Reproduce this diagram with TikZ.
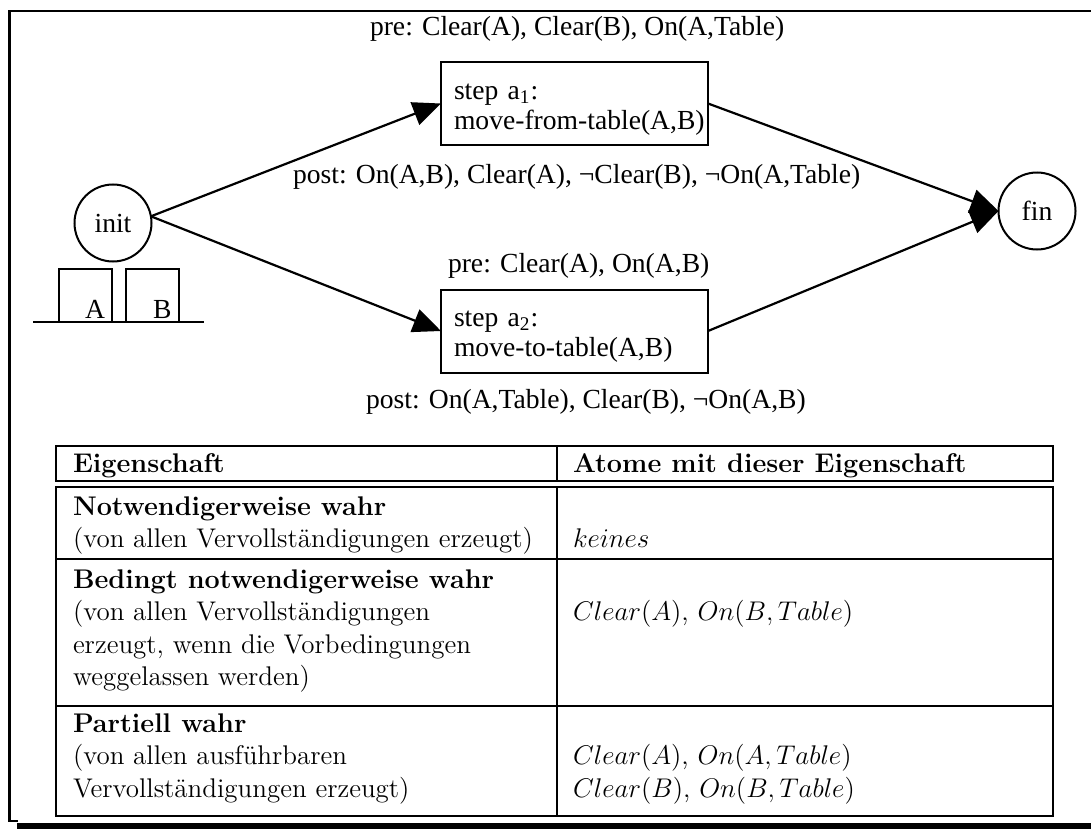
\RequirePackage{fix-cm}
\documentclass[tikz,border=0pt]{standalone}
\usepackage{fontspec}
\newfontfamily\tms{Liberation Serif}
\usetikzlibrary{arrows.meta}
\newcommand{\tfont}{\tms\fontsize{13.8}{15}\selectfont}
\newcommand{\cfont}{\fontsize{13.5}{16.25}\selectfont}
\newcommand{\pad}{\hspace*{5.5pt}}
\begin{document}
\begin{tikzpicture}[x=0.5pt,y=-0.5pt,
  every node/.style={inner sep=0pt,outer sep=0pt},
  frame/.style={line width=1.25pt},
  rulel/.style={line width=1pt},
  conn/.style={line width=1.1pt,-{Triangle[length=14pt,width=12pt]}},
  state/.style={circle,draw,line width=1pt,minimum size=38.5pt,font=\tfont},
  stepbox/.style={draw,line width=1pt,minimum height=41.5pt,text width=131.5pt,
    inner xsep=1pt,align=left,font=\tfont},
  block/.style={draw,line width=1pt,minimum width=26.5pt,minimum height=26.5pt},
  lbl/.style={font=\tfont,anchor=base west},
  cell/.style={font=\cfont,anchor=base west},
]
\useasboundingbox (0,0) rectangle (1091,829);

% outer frame
\draw[frame] (8,11) -- (1091,11);
\draw[frame] (9.5,11) -- (9.5,821) -- (18,821);
\fill (17,823) rectangle (1091,829);

% plan graph
\node[state] (init) at (113,223) {init};
\node[state] (fin) at (1037,211) {fin};
\node[stepbox] (a1) at (574.5,103.5)
  {\pad\rule{0pt}{13.5pt}step a\textsubscript{1}:\\
   \pad move-from-table(A,B)\rule[-3pt]{0pt}{3pt}};
\node[stepbox] (a2) at (574.5,331)
  {\pad\rule{0pt}{13.5pt}step a\textsubscript{2}:\\
   \pad move-to-table(A,B)\rule[-3pt]{0pt}{3pt}};

\draw[conn] (init.10) -- (a1.west);
\draw[conn] (init.10) -- (a2.west);
\draw[conn] (a1.east) -- (fin.west);
\draw[conn] (a2.east) -- (fin.west);

\node[lbl] (pre1) at (370,36) {pre: Clear(A), Clear(B), On(A,Table)};
\node[lbl] (post1) at (293,183) {post: On(A,B), Clear(A), ¬Clear(B), ¬On(A,Table)};
\node[lbl] (pre2) at (448,272) {pre: Clear(A), On(A,B)};
\node[lbl] (post2) at (366,408) {post: On(A,Table), Clear(B), ¬On(A,B)};

% blocks on the table
\node[block] (ba) at (85,295.5) {};
\node[block] (bb) at (152.5,295.5) {};
\node[lbl] (la) at (85,318) {A};
\node[lbl] (lb) at (153,318) {B};
\draw[rulel] (33,322) -- (204,322);

% table of properties
\draw[rulel] (56,446) rectangle (1053,481);
\draw[rulel] (56,487) rectangle (1053,816);
\draw[rulel] (557,446) -- (557,481);
\draw[rulel] (557,487) -- (557,816);
\draw[rulel] (56,559) -- (1053,559);
\draw[rulel] (56,706) -- (1053,706);

\node[cell] (h1) at (73,472) {\bfseries Eigenschaft};
\node[cell] (h2) at (573,472) {\bfseries Atome mit dieser Eigenschaft};

\node[cell] (r1a) at (73,515) {\bfseries Notwendigerweise wahr};
\node[cell] (r1b) at (73,547.5) {(von allen Vervollständigungen erzeugt)};
\node[cell] (r1c) at (573,547.5) {$keines$};

\node[cell] (r2a) at (73,588) {\bfseries Bedingt notwendigerweise wahr};
\node[cell] (r2b) at (73,620.5) {(von allen Vervollständigungen};
\node[cell] (r2c) at (73,653) {erzeugt, wenn die Vorbedingungen};
\node[cell] (r2d) at (73,685.5) {weggelassen werden)};
\node[cell] (r2e) at (573,620.5) {$Clear(A)$, $On(B,Table)$};

\node[cell] (r3a) at (73,732) {\bfseries Partiell wahr};
\node[cell] (r3b) at (73,764.5) {(von allen ausführbaren};
\node[cell] (r3c) at (73,797) {Vervollständigungen erzeugt)};
\node[cell] (r3d) at (573,764.5) {$Clear(A)$, $On(A,Table)$};
\node[cell] (r3e) at (573,797) {$Clear(B)$, $On(B,Table)$};
\end{tikzpicture}
\end{document}
